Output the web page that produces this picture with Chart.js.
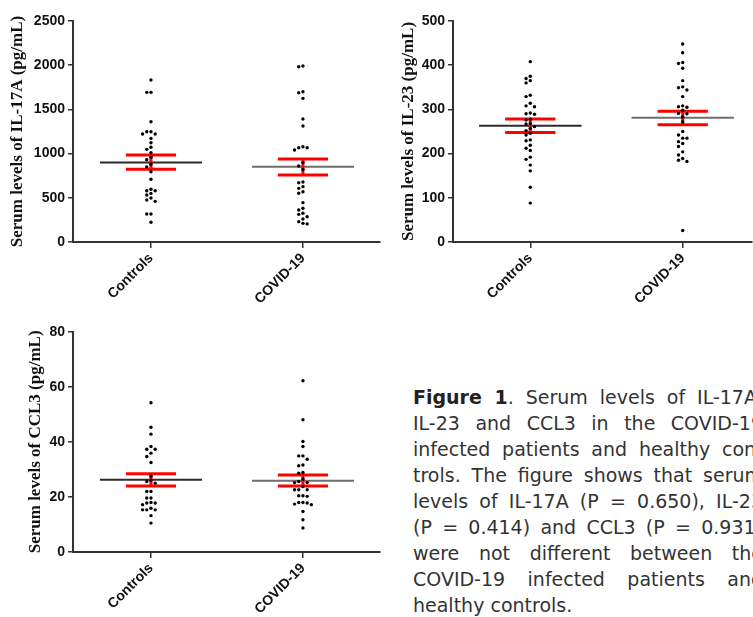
<!DOCTYPE html>
<html>
<head>
<meta charset="utf-8">
<script src="https://cdn.jsdelivr.net/npm/chart.js@4/dist/chart.umd.min.js"></script>
<style>
  html, body { margin: 0; padding: 0; background: #fff; }
  body { width: 753px; height: 617px; overflow: hidden; position: relative; }
  canvas { position: absolute; }
  #caption { position: absolute; left: 413px; top: 384px; width: 350px;
    font-family: "DejaVu Sans", sans-serif; font-size: 19px; line-height: 26px; color: #333; }
  #caption div { text-align: justify; text-align-last: justify; }
  #caption div.last { text-align-last: left; }
  #caption b { font-weight: bold; color: #222; }
</style>
</head>
<body>
<canvas id="c1" width="385" height="310" style="left:0px;top:0px"></canvas>
<canvas id="c2" width="373" height="310" style="left:380px;top:0px"></canvas>
<canvas id="c3" width="385" height="310" style="left:0px;top:310px"></canvas>
<div id="caption">
  <div><b>Figure 1</b>. Serum levels of IL-17A,</div>
  <div>IL-23 and CCL3 in the COVID-19</div>
  <div>infected patients and healthy con-</div>
  <div>trols. The figure shows that serum</div>
  <div>levels of IL-17A (P = 0.650), IL-23</div>
  <div>(P = 0.414) and CCL3 (P = 0.931)</div>
  <div>were not different between the</div>
  <div>COVID-19 infected patients and</div>
  <div class="last">healthy controls.</div>
</div>
<script>
// ---------- data ----------
const categories = ["Controls", "COVID-19"];

const il17aControls = [1832, 1693, 1693, 1361, 1248, 1248, 1221, 1221, 1172, 1123, 1071, 1048, 1010, 960, 930, 880, 850, 795, 709, 596, 580, 580, 550, 531, 497, 475, 460, 317, 317, 223];
const il17aCovid = [1991, 1983, 1700, 1689, 1625, 1391, 1312, 1078, 1067, 1067, 1040, 900, 860, 820, 679, 671, 626, 607, 569, 551, 445, 381, 362, 325, 313, 286, 260, 230, 211, 205];
const il17aMean = [900, 852];
const il17aUpper = [984, 939];
const il17aLower = [822, 758];
const il17aTicks = [0, 500, 1000, 1500, 2000, 2500];

const il23Controls = [408, 375, 370, 365, 360, 332, 329, 314, 308, 306, 292, 290, 289, 278, 276, 268, 267, 261, 257, 252, 246, 242, 231, 229, 219, 212, 207, 192, 187, 174, 161, 124, 88];
const il23Covid = [448, 428, 406, 404, 393, 365, 351, 349, 344, 329, 308, 306, 305, 298, 291, 290, 283, 272, 250, 242, 235, 235, 227, 223, 216, 204, 197, 189, 185, 182, 26];
const il23Mean = [263, 281];
const il23Upper = [278, 296];
const il23Lower = [248, 265];
const il23Ticks = [0, 100, 200, 300, 400, 500];

const ccl3Controls = [54.2, 45.3, 42.8, 38.3, 37.3, 37.3, 35.9, 34.7, 32.5, 27.5, 26.0, 25.6, 25.0, 22.0, 22.0, 19.6, 19.6, 18.0, 17.8, 17.8, 17.2, 15.9, 15.3, 15.3, 15.3, 13.2, 10.5];
const ccl3Covid = [62.2, 48.0, 40.1, 38.3, 34.9, 34.9, 33.7, 31.6, 31.3, 28.9, 28.6, 26.5, 25.6, 25.2, 25.2, 23.8, 22.6, 22.6, 22.6, 20.4, 20.4, 20.2, 18.0, 18.0, 17.8, 17.4, 17.2, 14.7, 11.7, 8.7];
const ccl3Mean = [26.2, 25.9];
const ccl3Upper = [28.4, 28.0];
const ccl3Lower = [24.0, 24.0];
const ccl3Ticks = [0, 20, 40, 60, 80];

// ---------- helpers ----------
// deterministic beeswarm-style horizontal spread of dots with close values
function swarm(vals, idx, thr, step) {
  const order = vals.map((v, i) => i).sort((a, b) => vals[b] - vals[a]);
  const placed = [];
  const out = new Array(vals.length);
  const cand = [0, -1, 1, -2, 2, -3, 3];
  for (const i of order) {
    for (const c of cand) {
      const ok = placed.every(p => p.c !== c || Math.abs(p.v - vals[i]) >= thr);
      if (ok) {
        placed.push({ c: c, v: vals[i] });
        out[i] = { x: idx + c * step, y: vals[i] };
        break;
      }
    }
  }
  return out;
}

function seg(x0, y0, x1, y1, color, width, order) {
  return {
    type: 'scatter', showLine: true,
    data: [{ x: x0, y: y0 }, { x: x1, y: y1 }],
    borderColor: color, borderWidth: width, borderCapStyle: 'butt',
    pointRadius: 0, pointHoverRadius: 0, fill: false, order: order
  };
}

function makeChart(id, groups, mean, upper, lower, ticks, title, xmin, xmax, titlePad, topPad, rightPad) {
  const ymax = ticks[ticks.length - 1];
  const thr = ymax * 0.0165;
  const step = 4.2 / 152;
  const meanColors = ['#2b2b2b', '#6e6e6e'];
  const datasets = [];
  groups.forEach((vals, i) => {
    datasets.push({
      type: 'scatter', data: swarm(vals, i, thr, step),
      pointRadius: 1.7, pointHoverRadius: 1.7,
      backgroundColor: '#000', borderWidth: 0, order: 0
    });
    datasets.push(seg(i - 0.336, mean[i], i + 0.336, mean[i], meanColors[i], 2, 2));
    datasets.push(seg(i, lower[i], i, upper[i], '#ff0000', 3, 1));
    datasets.push(seg(i - 0.165, upper[i], i + 0.165, upper[i], '#ff0000', 3, 1));
    datasets.push(seg(i - 0.165, lower[i], i + 0.165, lower[i], '#ff0000', 3, 1));
  });
  return new Chart(document.getElementById(id), {
    type: 'scatter',
    data: { datasets: datasets },
    options: {
      responsive: false, animation: false, devicePixelRatio: 1,
      layout: { padding: { top: topPad, right: rightPad, left: 0, bottom: 0 } },
      plugins: { legend: { display: false }, tooltip: { enabled: false } },
      events: [],
      scales: {
        x: {
          type: 'linear', min: xmin, max: xmax,
          afterBuildTicks: s => { s.ticks = categories.map((c, i) => ({ value: i })); },
          afterFit: s => { s.height = 68; },
          ticks: {
            callback: v => categories[v],
            autoSkip: false, minRotation: 45, maxRotation: 45, padding: 2,
            color: '#111', font: { family: 'Liberation Sans, Arial, sans-serif', weight: 'bold', size: 14 }
          },
          grid: { drawOnChartArea: false, drawTicks: true, tickLength: 6, color: '#333', lineWidth: 1.5 },
          border: { display: true, color: '#333', width: 2 }
        },
        y: {
          min: 0, max: ymax,
          afterBuildTicks: s => { s.ticks = ticks.map(v => ({ value: v })); },
          afterFit: s => { s.width = 73; },
          ticks: {
            callback: v => String(v),
            padding: 3, color: '#111',
            font: { family: 'Liberation Sans, Arial, sans-serif', weight: 'bold', size: 14 }
          },
          grid: { drawOnChartArea: false, drawTicks: true, tickLength: 5, color: '#333', lineWidth: 1.5 },
          border: { display: true, color: '#333', width: 2 },
          title: {
            display: true, text: title, color: '#111',
            font: { family: 'Liberation Serif, Times New Roman, serif', weight: 'bold', size: 17 },
            padding: { top: titlePad, bottom: 0 }
          }
        }
      }
    }
  });
}

makeChart('c1', [il17aControls, il17aCovid], il17aMean, il17aUpper, il17aLower, il17aTicks,
  'Serum levels of IL-17A (pg/mL)', -0.513, 1.507, 7.8, 21, 5);
makeChart('c2', [il23Controls, il23Covid], il23Mean, il23Upper, il23Lower, il23Ticks,
  'Serum levels of IL-23 (pg/mL)', -0.507, 1.45, 18.3, 21, 0);
makeChart('c3', [ccl3Controls, ccl3Covid], ccl3Mean, ccl3Upper, ccl3Lower, ccl3Ticks,
  'Serum levels of CCL3 (pg/mL)', -0.513, 1.507, 25.8, 21.7, 5);
</script>
</body>
</html>
